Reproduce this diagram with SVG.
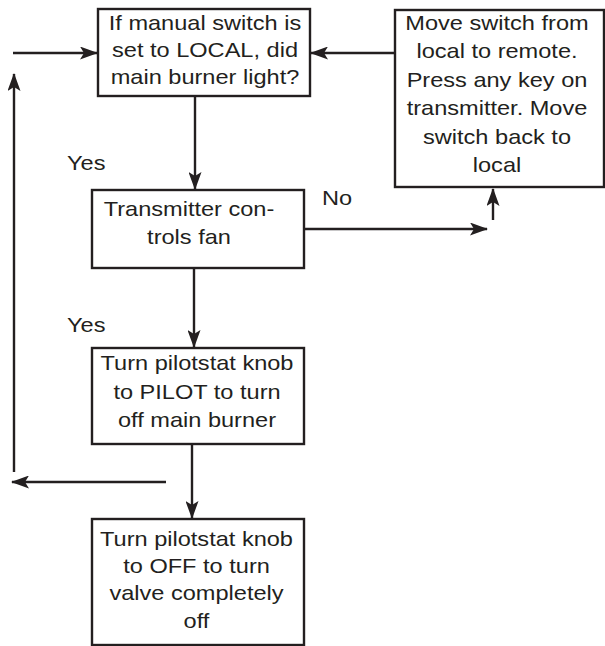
<svg xmlns="http://www.w3.org/2000/svg" width="605" height="646" viewBox="0 0 605 646">
<style>
.box{fill:#fff;stroke:#231f20;stroke-width:2.4}
.t{font-family:"Liberation Sans",Arial,sans-serif;font-size:20.5px;fill:#231f20;text-anchor:middle}
.l{font-family:"Liberation Sans",Arial,sans-serif;font-size:20.5px;fill:#231f20}
.c{fill:none;stroke:#231f20;stroke-width:2.4}
</style>
<defs>
<marker id="ah" viewBox="0 0 18 13" refX="17" refY="6.5" markerWidth="18" markerHeight="13" markerUnits="userSpaceOnUse" orient="auto">
<path d="M0,0 L18,6.5 L0,13 L4,6.5 Z" fill="#231f20"/>
</marker>
</defs>
<g id="connectors">
<line class="c" x1="13" y1="53" x2="97" y2="53" marker-end="url(#ah)"/>
<line class="c" x1="395" y1="53" x2="311" y2="53" marker-end="url(#ah)"/>
<line class="c" x1="195" y1="97" x2="195" y2="189" marker-end="url(#ah)"/>
<line class="c" x1="194" y1="268" x2="194" y2="347" marker-end="url(#ah)"/>
<line class="c" x1="192" y1="444" x2="192" y2="518" marker-end="url(#ah)"/>
<line class="c" x1="304" y1="229" x2="487" y2="229" marker-end="url(#ah)"/>
<line class="c" x1="493" y1="220" x2="493" y2="189" marker-end="url(#ah)"/>
<line class="c" x1="166" y1="482" x2="12" y2="482" marker-end="url(#ah)"/>
<line class="c" x1="14" y1="472" x2="14" y2="74" marker-end="url(#ah)"/>
<text class="l" transform="translate(67,170) scale(1.15,1)">Yes</text>
<text class="l" transform="translate(67,332) scale(1.15,1)">Yes</text>
<text class="l" transform="translate(322,205) scale(1.15,1)">No</text>
</g>
<g id="n1">
<rect class="box" x="98" y="9" width="212" height="87"/>
<text class="t" transform="translate(205,29.5) scale(1.15,1)">If manual switch is</text>
<text class="t" transform="translate(205,57) scale(1.15,1)">set to LOCAL, did</text>
<text class="t" transform="translate(205,84) scale(1.15,1)">main burner light?</text>
</g>
<g id="n2">
<rect class="box" x="395" y="10" width="209" height="177"/>
<text class="t" transform="translate(497,30) scale(1.15,1)">Move switch from</text>
<text class="t" transform="translate(497,58) scale(1.15,1)">local to remote.</text>
<text class="t" transform="translate(497,86.5) scale(1.15,1)">Press any key on</text>
<text class="t" transform="translate(497,115) scale(1.15,1)">transmitter. Move</text>
<text class="t" transform="translate(497,143.5) scale(1.15,1)">switch back to</text>
<text class="t" transform="translate(497,172) scale(1.15,1)">local</text>
</g>
<g id="n3">
<rect class="box" x="92" y="190" width="212" height="78"/>
<text class="t" transform="translate(189,215.5) scale(1.15,1)">Transmitter con-</text>
<text class="t" transform="translate(189,243.5) scale(1.15,1)">trols fan</text>
</g>
<g id="n4">
<rect class="box" x="92" y="348" width="212" height="96"/>
<text class="t" transform="translate(197,370) scale(1.15,1)">Turn pilotstat knob</text>
<text class="t" transform="translate(197,398.5) scale(1.15,1)">to PILOT to turn</text>
<text class="t" transform="translate(197,427) scale(1.15,1)">off main burner</text>
</g>
<g id="n5">
<rect class="box" x="92" y="519" width="212" height="126"/>
<text class="t" transform="translate(196.5,545.5) scale(1.15,1)">Turn pilotstat knob</text>
<text class="t" transform="translate(196.5,572.5) scale(1.15,1)">to OFF to turn</text>
<text class="t" transform="translate(196.5,600) scale(1.15,1)">valve completely</text>
<text class="t" transform="translate(196.5,628) scale(1.15,1)">off</text>
</g>
</svg>
